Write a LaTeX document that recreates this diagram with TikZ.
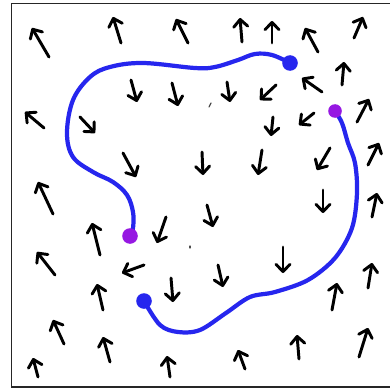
\documentclass[tikz,border=0pt]{standalone}
\usepackage{xcolor}
\usepackage{tikz}
\usetikzlibrary{arrows.meta}
\definecolor{trajblue}{RGB}{38,38,238}
\definecolor{endviolet}{RGB}{150,24,226}

\begin{document}
\begin{tikzpicture}[
    x=0.25mm, y=-0.25mm,
    vec/.style={line width=2.1pt, line cap=round, line join=round,
                -{Straight Barb[round, length=1.8mm, width=3.5mm]}},
    traj/.style={draw=trajblue, line width=3pt, line cap=round},
    enddot/.style={circle, fill=#1, inner sep=0pt, minimum size=3.9mm},
    frame/.style={line width=1.2pt, draw=black!85},
    speck/.style={line width=0.8pt, line cap=round, draw=black!70}
]
\useasboundingbox (0,0) rectangle (390,391);
\draw[frame] (392,3.5) -- (11.5,3.5) -- (11.5,387) -- (392,387);
% field arrows (tail/head)
\foreach \xa/\ya/\xb/\yb in {49/57/32/28, 121/43/113/17, 188/43/176/19,
    131/80/137/102, 172/83/178/106, 44/128/25/112, 80/117/95/133,
    123/153/136/177, 53/214/38/182, 242/42/240/18, 272/43/272/21,
    318/52/305/28, 354/38/363/17, 342/85/344/62, 322/92/302/78,
    227/82/230/102, 276/85/260/100, 357/122/369/99, 314/113/299/125,
    273/117/271/136, 202/152/203/175, 262/150/258/175, 330/148/317/170,
    368/165/379/143, 323/190/323/213, 372/217/377/193, 100/255/92/223,
    166/217/157/243, 55/275/37/252, 144/265/122/273, 103/310/97/284,
    171/278/173/302, 64/344/53/320, 110/362/103/337, 38/377/33/358,
    170/377/167/356, 207/205/213/227, 218/265/223/287, 283/247/283/273,
    332/310/337/283, 368/288/372/263, 245/369/238/350, 299/359/297/335,
    359/357/368/328}
  \draw[vec] (\xa,\ya) -- (\xb,\yb);
\draw[speck] (209,107) -- (211,103);
\draw[speck] (190,246) -- (190,248);
% trajectories
\coordinate (startA) at (290,63);
\coordinate (endA) at (130,236);
\coordinate (startB) at (335,111);
\coordinate (endB) at (144,301);
\draw[traj] plot[smooth, tension=0.6] coordinates {(startA) (272,55)
    (255,54) (238,60) (215,67) (195,68) (143,63) (110,67) (90,77) (73,100)
    (67,133) (73,157) (93,172) (113,182) (127,195) (133,212) (133,228) (endA)};
\draw[traj] plot[smooth, tension=0.55] coordinates {(startB) (342,123)
    (348,143) (355,163) (357,193) (352,228) (335,258) (308,280) (275,292)
    (250,297) (226,313) (200,330) (178,332) (160,325) (endB)};
\node[enddot=trajblue] (dotA) at (startA) {};
\node[enddot=endviolet] (dotAend) at (endA) {};
\node[enddot=endviolet, minimum size=3.4mm] (dotB) at (startB) {};
\node[enddot=trajblue] (dotBend) at (endB) {};
\end{tikzpicture}
\end{document}
